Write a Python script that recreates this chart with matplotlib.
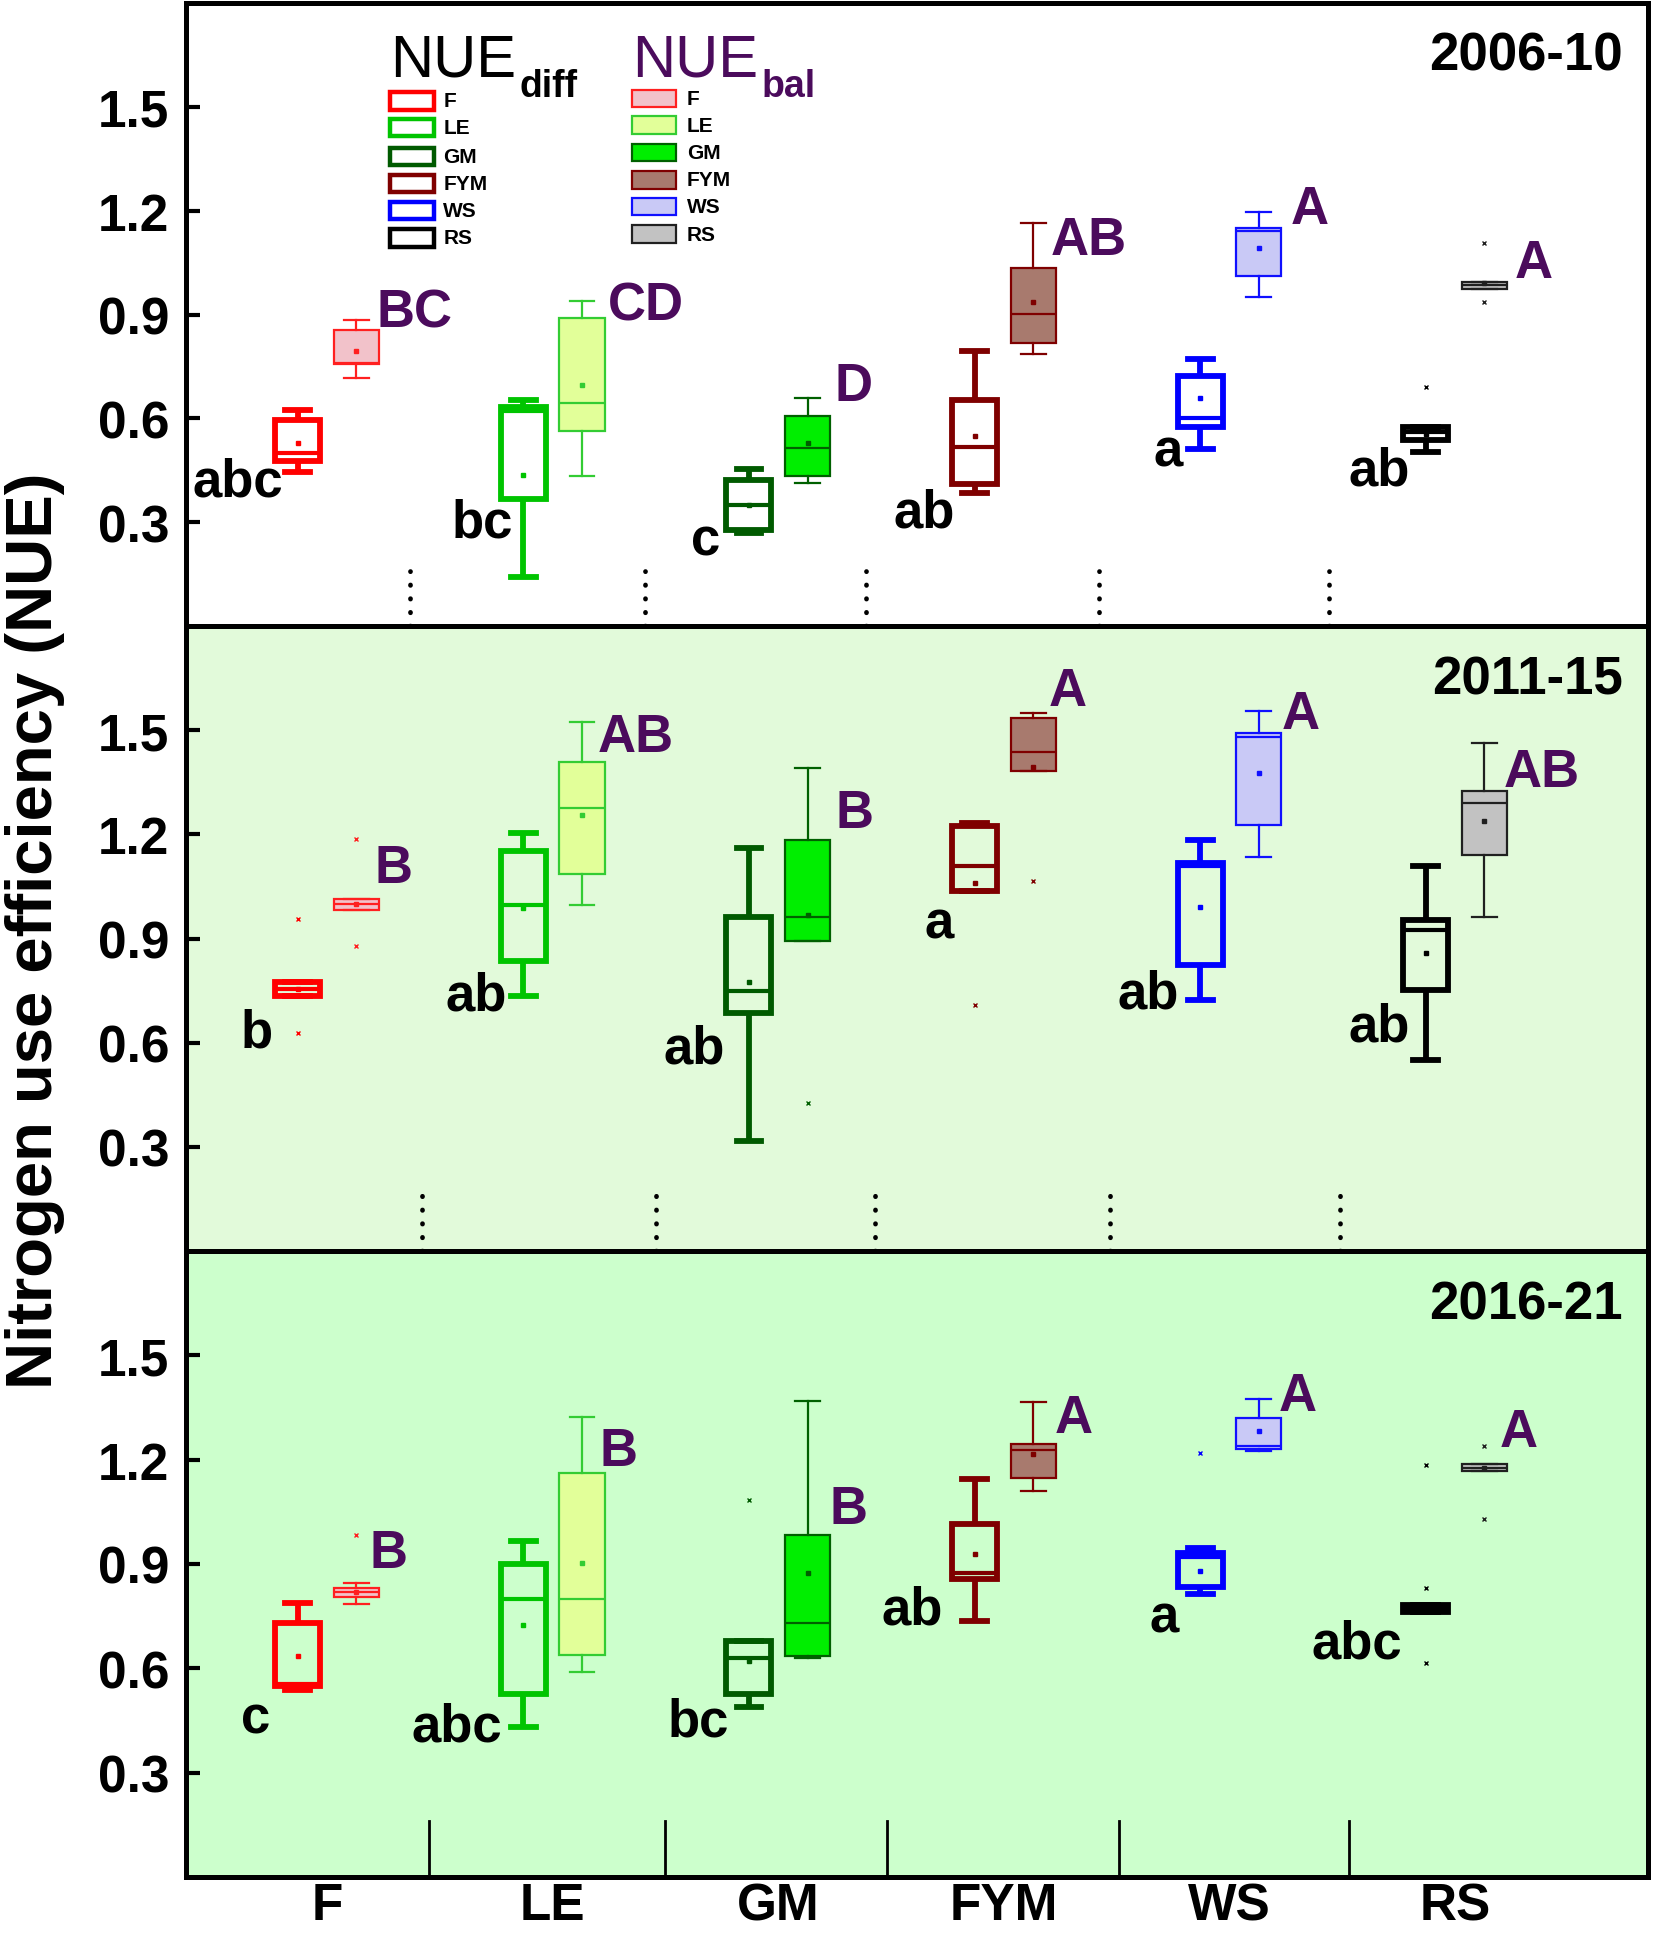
import matplotlib
matplotlib.use("Agg")
import matplotlib.pyplot as plt
from matplotlib.patches import Rectangle

plt.rcParams['font.family'] = ['Liberation Sans', 'DejaVu Sans']

categories = ['F', 'LE', 'GM', 'FYM', 'WS', 'RS']
periods = ['2006-10', '2011-15', '2016-21']

# ---- NUE_diff box statistics per period: whislo, q1, med, q3, whishi, mean ----
diff_whislo = [[0.444, 0.141, 0.270, 0.384, 0.511, 0.502],
               [0.733, 0.733, 0.317, 1.036, 0.723, 0.550],
               [0.539, 0.430, 0.490, 0.737, 0.815, 0.762]]
diff_q1 = [[0.478, 0.367, 0.276, 0.410, 0.574, 0.536],
           [0.733, 0.834, 0.685, 1.036, 0.824, 0.752],
           [0.550, 0.526, 0.526, 0.857, 0.835, 0.762]]
diff_med = [[0.500, 0.620, 0.351, 0.516, 0.600, 0.560],
            [0.755, 0.997, 0.750, 1.108, 1.110, 0.925],
            [0.555, 0.799, 0.629, 0.875, 0.920, 0.772]]
diff_q3 = [[0.595, 0.634, 0.422, 0.653, 0.723, 0.576],
           [0.776, 1.151, 0.961, 1.223, 1.117, 0.954],
           [0.729, 0.899, 0.680, 1.015, 0.931, 0.782]]
diff_whishi = [[0.625, 0.653, 0.454, 0.795, 0.771, 0.576],
               [0.776, 1.204, 1.162, 1.233, 1.185, 1.108],
               [0.789, 0.967, 0.680, 1.143, 0.946, 0.782]]
diff_mean = [[0.529, 0.436, 0.350, 0.550, 0.659, 0.556],
             [0.755, 0.988, 0.776, 1.060, 0.992, 0.858],
             [0.635, 0.724, 0.620, 0.928, 0.880, 0.772]]
diff_fliers = [[[], [], [], [], [], [0.691]],
               [[0.629, 0.956], [], [], [0.709], [], []],
               [[], [], [1.085], [], [1.220], [0.616, 0.830, 1.185]]]

# ---- NUE_bal box statistics per period ----
bal_whislo = [[0.716, 0.433, 0.412, 0.785, 0.952, 0.973],
              [0.981, 0.997, 0.894, 1.382, 1.134, 0.963],
              [0.786, 0.589, 0.629, 1.109, 1.225, 1.167]]
bal_q1 = [[0.757, 0.564, 0.433, 0.817, 1.011, 0.973],
          [0.981, 1.086, 0.894, 1.382, 1.228, 1.141],
          [0.806, 0.637, 0.635, 1.146, 1.230, 1.167]]
bal_med = [[0.760, 0.644, 0.514, 0.901, 1.140, 0.985],
           [1.000, 1.276, 0.963, 1.438, 1.480, 1.290],
           [0.820, 0.799, 0.731, 1.227, 1.240, 1.177]]
bal_q3 = [[0.855, 0.891, 0.608, 1.034, 1.151, 0.995],
          [1.014, 1.408, 1.183, 1.536, 1.492, 1.324],
          [0.830, 1.162, 0.984, 1.246, 1.320, 1.187]]
bal_whishi = [[0.884, 0.939, 0.658, 1.165, 1.197, 0.995],
              [1.014, 1.523, 1.391, 1.550, 1.555, 1.463],
              [0.844, 1.322, 1.370, 1.365, 1.375, 1.187]]
bal_mean = [[0.795, 0.697, 0.529, 0.937, 1.091, 0.990],
            [1.000, 1.257, 0.968, 1.393, 1.377, 1.237],
            [0.820, 0.904, 0.873, 1.217, 1.281, 1.177]]
bal_fliers = [[[], [], [], [], [], [0.937, 1.108]],
              [[0.879, 1.188], [], [0.425], [1.066], [], []],
              [[0.984], [], [], [], [], [1.030, 1.240]]]

# ---- significance letters ----
diff_letters = [['abc', 'bc', 'c', 'ab', 'a', 'ab'],
                ['b', 'ab', 'ab', 'a', 'ab', 'ab'],
                ['c', 'abc', 'bc', 'ab', 'a', 'abc']]
bal_letters = [['BC', 'CD', 'D', 'AB', 'A', 'A'],
               ['B', 'AB', 'B', 'A', 'A', 'AB'],
               ['B', 'B', 'B', 'A', 'A', 'A']]
diff_letter_xy = [[(0.605, 0.418), (1.69, 0.30), (2.68, 0.246), (3.647, 0.329), (4.726, 0.504), (5.663, 0.45)],
                  [(0.688, 0.629), (1.663, 0.736), (2.627, 0.582), (3.712, 0.943), (4.638, 0.743), (5.663, 0.646)],
                  [(0.682, 0.457), (1.575, 0.432), (2.644, 0.446), (3.592, 0.768), (4.71, 0.746), (5.564, 0.671)]]
bal_letter_xy = [[(1.389, 0.907), (2.414, 0.925), (3.334, 0.693), (4.375, 1.114), (5.356, 1.204), (6.348, 1.05)],
                 [(1.296, 1.104), (2.37, 1.479), (3.34, 1.261), (4.282, 1.614), (5.318, 1.546), (6.386, 1.379)],
                 [(1.274, 0.932), (2.293, 1.225), (3.312, 1.057), (4.31, 1.321), (5.301, 1.382), (6.282, 1.279)]]

separators = [[1.37, 2.41, 3.39, 4.42, 5.44],
              [1.42, 2.46, 3.43, 4.47, 5.49],
              [1.45, 2.50, 3.48, 4.51, 5.53]]

diff_edge = ['#FF0000', '#00C400', '#005A00', '#7F0000', '#0000FF', '#000000']
bal_face = ['#F2C2CA', '#E2FF99', '#00EE00', '#A87A6E', '#C9C9F6', '#C2C2C2']
bal_edge = ['#FF2020', '#33CC33', '#006000', '#7F0000', '#1010FF', '#202020']
panel_bg = ['#FFFFFF', '#E2FADA', '#CCFFCC']
purple = '#4B0B5C'

fig = plt.figure(figsize=(16.54, 19.40), dpi=100)
left, width = 186 / 1654, (1648 - 186) / 1654
tops = [4, 627, 1252]
bots = [627, 1252, 1878]
axes = []
for p in range(3):
    b = 1 - bots[p] / 1940
    h = (bots[p] - tops[p]) / 1940
    ax = fig.add_axes([left, b, width, h])
    axes.append(ax)

pos = list(range(1, len(categories) + 1))
off = 0.13
bw = 0.2

for p, ax in enumerate(axes):
    ax.set_facecolor(panel_bg[p])
    for i, cat in enumerate(categories):
        sd = dict(whislo=diff_whislo[p][i], q1=diff_q1[p][i], med=diff_med[p][i],
                  q3=diff_q3[p][i], whishi=diff_whishi[p][i], mean=diff_mean[p][i],
                  fliers=diff_fliers[p][i])
        c = diff_edge[i]
        ax.bxp([sd], positions=[pos[i] - off], widths=bw, showmeans=True,
               showfliers=True, patch_artist=True, manage_ticks=False,
               boxprops=dict(facecolor='none', edgecolor=c, linewidth=4.2),
               whiskerprops=dict(color=c, linewidth=4.2, solid_capstyle='butt'),
               capprops=dict(color=c, linewidth=4.2),
               medianprops=dict(color=c, linewidth=3.0),
               meanprops=dict(marker='s', markersize=2.5, markerfacecolor=c, markeredgecolor=c),
               flierprops=dict(marker='x', markersize=3, markeredgecolor=c, markeredgewidth=1.0),
               capwidths=bw * 0.55)
        sb = dict(whislo=bal_whislo[p][i], q1=bal_q1[p][i], med=bal_med[p][i],
                  q3=bal_q3[p][i], whishi=bal_whishi[p][i], mean=bal_mean[p][i],
                  fliers=bal_fliers[p][i])
        ce = bal_edge[i]
        ax.bxp([sb], positions=[pos[i] + off], widths=bw, showmeans=True,
               showfliers=True, patch_artist=True, manage_ticks=False,
               boxprops=dict(facecolor=bal_face[i], edgecolor=ce, linewidth=1.6),
               whiskerprops=dict(color=ce, linewidth=1.6),
               capprops=dict(color=ce, linewidth=1.6),
               medianprops=dict(color=ce, linewidth=1.6),
               meanprops=dict(marker='s', markersize=2.5, markerfacecolor=ce, markeredgecolor=ce),
               flierprops=dict(marker='x', markersize=3, markeredgecolor=ce, markeredgewidth=1.0),
               capwidths=bw * 0.55)
        dx, dy = diff_letter_xy[p][i]
        ax.text(dx, dy, diff_letters[p][i], ha='center', va='center',
                fontsize=38, fontweight='bold', color='black')
        bx, by = bal_letter_xy[p][i]
        ax.text(bx, by, bal_letters[p][i], ha='center', va='center',
                fontsize=38, fontweight='bold', color=purple)

    # separators
    for s in separators[p]:
        if p < 2:
            ax.plot([s, s], [0, 0.16], color='black', lw=3.4,
                    linestyle=(0, (0.1, 2.8)), dash_capstyle='round')
        else:
            ax.plot([s, s], [0, 0.16], color='black', lw=2.0)

    ax.set_xlim(0.375, 6.855)
    ax.set_ylim(0, 1.8)
    ax.set_yticks([0.3, 0.6, 0.9, 1.2, 1.5])
    ax.set_yticklabels(['0.3', '0.6', '0.9', '1.2', '1.5'])
    ax.tick_params(axis='y', direction='in', length=10, width=3, pad=12,
                   labelsize=37)
    for lab in ax.get_yticklabels():
        lab.set_fontweight('bold')
    ax.set_xticks(pos)
    if p == 2:
        ax.set_xticklabels(categories)
        ax.tick_params(axis='x', length=0, pad=3, labelsize=37)
        for lab in ax.get_xticklabels():
            lab.set_fontweight('bold')
    else:
        ax.set_xticklabels([])
        ax.tick_params(axis='x', length=0)
    for sp in ax.spines.values():
        sp.set_linewidth(3.6)
        sp.set_color('black')
    ax.text(0.983, 0.915, periods[p], transform=ax.transAxes, ha='right',
            va='center', fontsize=38, fontweight='bold')

# ---- legend (custom) in top panel ----
ax = axes[0]
ax.text(0.1396, 0.883, 'NUE', transform=ax.transAxes, fontsize=43,
        ha='left', va='baseline', color='black')
ax.text(0.2282, 0.851, 'diff', transform=ax.transAxes, fontsize=27,
        fontweight='bold', ha='left', va='baseline', color='black')
ax.text(0.3054, 0.883, 'NUE', transform=ax.transAxes, fontsize=43,
        ha='left', va='baseline', color=purple)
ax.text(0.3935, 0.851, 'bal', transform=ax.transAxes, fontsize=27,
        fontweight='bold', ha='left', va='baseline', color=purple)
diff_leg_y = [0.843, 0.800, 0.754, 0.710, 0.667, 0.623]
bal_leg_y = [0.847, 0.804, 0.760, 0.716, 0.673, 0.629]
rw, rh = 0.030, 0.028
for i, cat in enumerate(categories):
    ax.add_patch(Rectangle((0.1395, diff_leg_y[i] - rh / 2), rw, rh,
                           transform=ax.transAxes, facecolor='white',
                           edgecolor=diff_edge[i], linewidth=3.2))
    ax.text(0.176, diff_leg_y[i], cat, transform=ax.transAxes, fontsize=15,
            fontweight='bold', ha='left', va='center')
    ax.add_patch(Rectangle((0.3054, bal_leg_y[i] - rh / 2), rw, rh,
                           transform=ax.transAxes, facecolor=bal_face[i],
                           edgecolor=bal_edge[i], linewidth=1.6))
    ax.text(0.3426, bal_leg_y[i], cat, transform=ax.transAxes, fontsize=15,
            fontweight='bold', ha='left', va='center')

fig.text(0.021, 0.52, 'Nitrogen use efficiency (NUE)', rotation=90,
         ha='center', va='center', fontsize=47, fontweight='bold')

fig.savefig('out.png', dpi=100)
